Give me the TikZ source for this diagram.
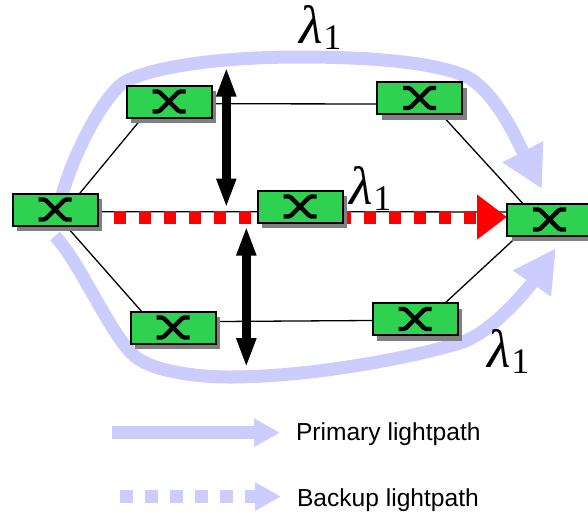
\documentclass[tikz,border=0pt]{standalone}
\usepackage{fontspec}
\setmainfont{Liberation Sans}
\newfontfamily\serifone{Liberation Serif}
\usetikzlibrary{arrows.meta,shadows}
\pgfdeclarelayer{under}
\pgfsetlayers{under,main}
\definecolor{oxcgreen}{HTML}{2FD150}
\definecolor{lav}{HTML}{CCCCFF}
\newcommand{\lamone}{{\fontsize{54}{54}\serifone\itshape λ}\hspace{1pt}\raisebox{-6pt}{\fontsize{36}{36}\serifone 1}}
\tikzset{
  oxc/.style={draw=black,line width=2pt,fill=oxcgreen,minimum width=85pt,minimum height=32pt,inner sep=0pt,outer sep=0pt,
    drop shadow={shadow xshift=4.7pt,shadow yshift=-5.5pt,fill=black!50,opacity=1}},
  xglyph/.style={draw=black,line width=4.3pt,rounded corners=1.5pt},
  thin link/.style={draw=black,line width=1.3pt},
  primary/.style={draw=lav,line width=13pt},
  backup/.style={line width=13pt,dash pattern=on 12.5pt off 12.5pt},
  dbl/.style={draw=black,line width=9.5pt,{Triangle[length=29.5pt,width=18pt]}-{Triangle[length=29.5pt,width=18pt]}},
  lab/.style={inner sep=0pt,outer sep=0pt,anchor=base west},
  legend/.style={inner sep=0pt,outer sep=0pt,anchor=base west,font=\fontsize{24.6}{24.6}\selectfont}
}
\begin{document}
\begin{tikzpicture}[x=1pt,y=-1pt]
\useasboundingbox (0,0) rectangle (588,512);
% free ends
\coordinate (pa) at (62,195);
\coordinate (pb) at (542,189);
\coordinate (qa) at (55,236);
\coordinate (qb) at (556,248);
\coordinate (ra) at (113.7,217);
\coordinate (rb) at (507,217);
\coordinate (ua) at (226.3,67);
\coordinate (ub) at (226.3,208);
\coordinate (la) at (246.3,226);
\coordinate (lb) at (246.3,367.7);
\coordinate (ka) at (112,432.7);
\coordinate (kb) at (280,432.7);
\coordinate (ba) at (120,496.5);
\coordinate (bb) at (281,496.5);
% nodes
\node[oxc] (n1) at (55,209.5) {};
\node[oxc] (n2) at (169,101.5) {};
\node[oxc] (n3) at (419.7,98) {};
\node[oxc] (n4) at (300,206.5) {};
\node[oxc] (n5) at (549.5,219.5) {};
\node[oxc] (n6) at (173,327.5) {};
\node[oxc] (n7) at (415,319) {};
\begin{pgfonlayer}{under}
\draw[primary,-{Triangle[length=42pt,width=43pt]}] (pa)
  .. controls (75,150) and (103,98) .. (123,83)
  .. controls (147,68) and (215,57) .. (300,57)
  .. controls (370,57) and (430,62) .. (463,75)
  .. controls (495,88) and (519,144.5) .. (pb);
\draw[primary,-{Triangle[length=43pt,width=43pt]}] (qa)
  .. controls (82,265) and (112,339.5) .. (137,358)
  .. controls (155,371) and (195,377) .. (230,377)
  .. controls (310,377) and (410,358) .. (460,343)
  .. controls (495,332) and (533.6,281) .. (qb);
\draw[thin link] (n1.33) -- (n2.211);
\draw[thin link] (n1.-56) -- (n6.153);
\draw[thin link] (n2.-3.3) -- (n3.188);
\draw[thin link] (n6.8.6) -- (n7.182.7);
\draw[thin link] (n3.-37) -- (n5.149);
\draw[thin link] (n7.28) -- (n5.207);
\draw[thin link] (n1.-3.3) -- (n4.187.3);
\draw[thin link] (n4.-7.3) -- (n5.170);
\path[backup,draw=red,-{Triangle[length=30pt,width=43pt]}] (ra) -- (rb);
\end{pgfonlayer}
\foreach \n in {n1,n2,n3,n4,n5,n6,n7}{
  \draw[xglyph] ([shift={(-16.5,-10)}]\n.center) -- ([shift={(-10,-10)}]\n.center) -- ([shift={(10,10)}]\n.center) -- ([shift={(16.5,10)}]\n.center);
  \draw[xglyph] ([shift={(-16.5,10)}]\n.center) -- ([shift={(-10,10)}]\n.center) -- ([shift={(10,-10)}]\n.center) -- ([shift={(16.5,-10)}]\n.center);
}
% double arrows
\draw[dbl] (ua) -- (ub);
\draw[dbl] (la) -- (lb);
% labels
\node[lab] (l1) at (299,43) {\lamone};
\node[lab] (l2) at (349,204) {\lamone};
\node[lab] (l3) at (487,367) {\lamone};
% legend
\draw[primary,-{Triangle[length=26pt,width=26.7pt]}] (ka) -- (kb);
\path[backup,draw=lav,-{Triangle[length=26pt,width=26.7pt]}] (ba) -- (bb);
\node[legend] (t1) at (296,440.7) {Primary lightpath};
\node[legend] (t2) at (297,506) {Backup lightpath};
\end{tikzpicture}
\end{document}
